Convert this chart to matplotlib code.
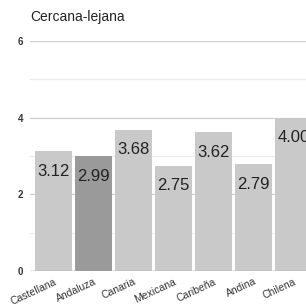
import matplotlib
matplotlib.use("Agg")
from matplotlib import pyplot as plt

# Data
dialects = ["Castellana", "Andaluza", "Canaria", "Mexicana", "Caribeña", "Andina", "Chilena"]
scores = [3.12, 2.99, 3.68, 2.75, 3.62, 2.79, 4.00]
bar_colors = ["#c9c9c9", "#9a9a9a", "#c9c9c9", "#c9c9c9", "#c9c9c9", "#c9c9c9", "#c9c9c9"]
major_ticks = [0, 2, 4, 6]
minor_ticks = [1, 3, 5]

plt.rcParams["font.family"] = ["Liberation Sans", "DejaVu Sans"]

fig = plt.figure(figsize=(3.06, 3.04), dpi=100)
# axes run past the right edge, the last bar is cut like in the source
ax = fig.add_axes([30 / 306, 33 / 304, 287 / 306, 230 / 304])

x = list(range(len(dialects)))
bars = ax.bar(x, scores, width=0.92, color=bar_colors, zorder=2)

# value labels inside the top of each bar
for xi, v in zip(x, scores):
    ax.annotate(f"{v:.2f}", (xi, v), xytext=(0, -9), textcoords="offset points",
                ha="center", va="top", fontsize=12, color="#222222", zorder=3)

ax.set_xlim(-0.585, 6.585)
ax.set_ylim(0, 6)

# grid
ax.set_yticks(major_ticks)
ax.set_yticks(minor_ticks, minor=True)
ax.grid(axis="y", which="major", color="#cfcfcf", linewidth=0.9, zorder=0)
ax.grid(axis="y", which="minor", color="#ececec", linewidth=0.9, zorder=0)
ax.axhline(0, color="#9a9a9a", linewidth=1, zorder=3)

ax.tick_params(axis="y", which="both", length=0, pad=5, labelsize=7, labelcolor="#333333")
for lab in ax.get_yticklabels():
    lab.set_fontweight("bold")

ax.set_xticks(x)
ax.set_xticklabels(dialects, rotation=25, ha="right", rotation_mode="anchor",
                   fontsize=7.5, color="#333333")
ax.tick_params(axis="x", length=0, pad=4)

for s in ax.spines.values():
    s.set_visible(False)

fig.text(30 / 306, 1 - 17 / 304, "Cercana-lejana", fontsize=10, color="#222222",
         ha="left", va="center")

fig.savefig("out.png", dpi=100)
